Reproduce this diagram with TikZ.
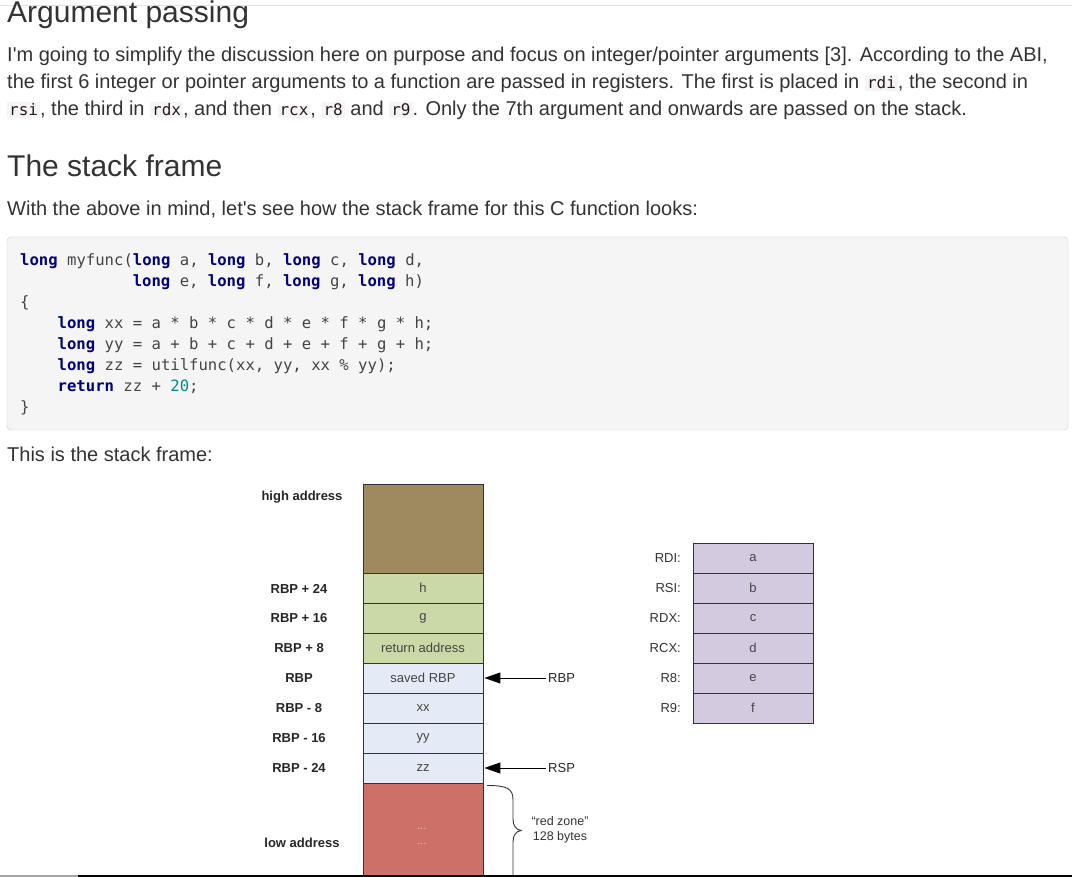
\documentclass[tikz,border=0pt]{standalone}
\usepackage{fontspec}
\setmainfont{Liberation Sans}[Ligatures=TeXOff]
\setmonofont{DejaVu Sans Mono}
\usetikzlibrary{arrows.meta}
\definecolor{textc}{HTML}{333333}
\definecolor{codebg}{HTML}{F5F5F5}
\definecolor{codeln}{HTML}{CCCCCC}
\definecolor{codefg}{HTML}{2B1A1A}
\definecolor{kwc}{HTML}{000080}
\definecolor{idc}{HTML}{444444}
\definecolor{numc}{HTML}{008B8B}
\definecolor{brownc}{HTML}{9E8A5E}
\definecolor{greenc}{HTML}{CBD9A9}
\definecolor{bluec}{HTML}{E4EBF6}
\definecolor{redc}{HTML}{CC7068}
\definecolor{lavc}{HTML}{D4CADF}
\definecolor{cellln}{HTML}{333333}
\definecolor{celltx}{HTML}{444444}
\newcommand\ic[1]{{\setlength\fboxsep{2pt}\colorbox{codebg}{\fontsize{16}{16}\ttfamily\color{codefg}#1}}}
\newcommand\kw[1]{\textbf{\color{kwc}#1}}
\tikzset{
  txt/.style={inner sep=0pt, anchor=base west, text=textc, font=\fontsize{20}{20}\selectfont},
  head/.style={inner sep=0pt, anchor=base west, text=textc, font=\fontsize{30}{30}\selectfont},
  code/.style={inner sep=0pt, anchor=base west, text=idc, font=\fontsize{15.6}{15.6}\ttfamily},
  cell/.style={draw=cellln, line width=0.9pt, minimum width=120pt, minimum height=30pt, inner sep=0pt, text=celltx, font=\fontsize{13}{13}\selectfont},
  lbl/.style={inner sep=0pt, text=black!85, font=\bfseries\fontsize{13}{13}\selectfont},
  reglbl/.style={inner sep=0pt, anchor=east, text=black!80, font=\fontsize{13}{13}\selectfont},
  ptr/.style={line width=1pt, -{Triangle[length=16pt,width=11pt]}, shorten >=1pt, shorten <=2pt}
}
\begin{document}
\begin{tikzpicture}[x=1pt,y=-1pt]
\useasboundingbox (0,0) rectangle (1072,877);
\fill[white] (0,0) rectangle (1072,877);
\draw[black!12] (0,5) -- (1072,5);
% headings and text
\node[head] (h1) at (7,23) {Argument passing};
\node[txt] (p1) at (7,62) {I'm going to simplify the discussion here on purpose and focus on integer/pointer arguments [3]. According to the ABI,};
\node[txt] (p2) at (7,89) {the first 6 integer or pointer arguments to a function are passed in registers. The first is placed in \ic{rdi}, the second in};
\node[txt] (p3) at (7,116) {\ic{rsi}, the third in \ic{rdx}, and then \ic{rcx}, \ic{r8} and \ic{r9}. Only the 7th argument and onwards are passed on the stack.};
\node[head] (h2) at (7,177) {The stack frame};
\node[txt] (p4) at (7,216) {With the above in mind, let's see how the stack frame for this C function looks:};
% code box
\filldraw[fill=codebg, draw=codeln, rounded corners=4pt] (7,237) rectangle (1068,430);
\node[code] (c1) at (20,266) {\kw{long} myfunc(\kw{long} a, \kw{long} b, \kw{long} c, \kw{long} d,};
\node[code] (c2) at (132.6,287) {\kw{long} e, \kw{long} f, \kw{long} g, \kw{long} h)};
\node[code] (c3) at (20,308) {\{};
\node[code] (c4) at (57.5,329) {\kw{long} xx = a * b * c * d * e * f * g * h;};
\node[code] (c5) at (57.5,350) {\kw{long} yy = a + b + c + d + e + f + g + h;};
\node[code] (c6) at (57.5,371) {\kw{long} zz = utilfunc(xx, yy, xx \% yy);};
\node[code] (c7) at (57.5,392) {\kw{return} zz + {\color{numc}20};};
\node[code] (c8) at (20,413) {\}};
\node[txt] (p5) at (7,462) {This is the stack frame:};
% stack
\node[cell, fill=brownc, minimum height=89pt] (top) at (423,528.5) {};
\node[cell, fill=greenc] (ch) at (423,588) {h};
\node[cell, fill=greenc] (cg) at (423,618) {g};
\node[cell, fill=greenc] (cret) at (423,648) {return address};
\node[cell, fill=bluec] (csaved) at (423,678) {saved RBP};
\node[cell, fill=bluec] (cxx) at (423,708) {xx};
\node[cell, fill=bluec] (cyy) at (423,738) {yy};
\node[cell, fill=bluec] (czz) at (423,768) {zz};
\node[cell, fill=redc, minimum height=97pt] (cred) at (423,831.5) {};
\node[inner sep=0pt, text=redc!45!white, font=\fontsize{11}{11}\selectfont] (d1) at (422,829) {...};
\node[inner sep=0pt, text=redc!45!white, font=\fontsize{11}{11}\selectfont] (d2) at (422,844) {...};
% left labels
\node[lbl] (lhigh) at (302,497) {high address};
\node[lbl] (l24) at (299,589) {RBP + 24};
\node[lbl] (l16) at (299,618) {RBP + 16};
\node[lbl] (l8) at (299,648) {RBP + 8};
\node[lbl] (l0) at (299,678) {RBP};
\node[lbl] (lm8) at (299,708) {RBP - 8};
\node[lbl] (lm16) at (299,738) {RBP - 16};
\node[lbl] (lm24) at (299,768) {RBP - 24};
\node[lbl] (llow) at (302,843) {low address};
% pointers
\node[inner sep=0pt, anchor=west, text=black!85, font=\fontsize{13}{13}\selectfont] (prbp) at (548,678) {RBP};
\node[inner sep=0pt, anchor=west, text=black!85, font=\fontsize{13}{13}\selectfont] (prsp) at (548,768) {RSP};
\draw[ptr] (prbp.west) -- (csaved.east);
\draw[ptr] (prsp.west) -- (czz.east);
% brace
\draw[line width=0.9pt, black!80] (487,785.5) .. controls (508,785.5) and (513,789) .. (513,800) -- (513,819)
  .. controls (513,826) and (516,829.5) .. (521,830.5) .. controls (516,831.5) and (513,835) .. (513,842) -- (513,880);
\node[inner sep=0pt, align=center, text=black!80, font=\fontsize{12.5}{15}\selectfont] (rz) at (560,830) {“red zone”\\128 bytes};
% registers
\node[cell, fill=lavc] (ra) at (753,558) {a};
\node[cell, fill=lavc] (rb) at (753,588) {b};
\node[cell, fill=lavc] (rc) at (753,618) {c};
\node[cell, fill=lavc] (rd) at (753,648) {d};
\node[cell, fill=lavc] (re) at (753,678) {e};
\node[cell, fill=lavc] (rf) at (753,708) {f};
\node[reglbl] (nrdi) at (681,558) {RDI:};
\node[reglbl] (nrsi) at (681,588) {RSI:};
\node[reglbl] (nrdx) at (681,618) {RDX:};
\node[reglbl] (nrcx) at (681,648) {RCX:};
\node[reglbl] (nr8) at (681,678) {R8:};
\node[reglbl] (nr9) at (681,708) {R9:};
% bottom bar
\fill[black!35] (0,875) rectangle (78,877);
\fill[black] (78,875) rectangle (1072,877);
\end{tikzpicture}
\end{document}
